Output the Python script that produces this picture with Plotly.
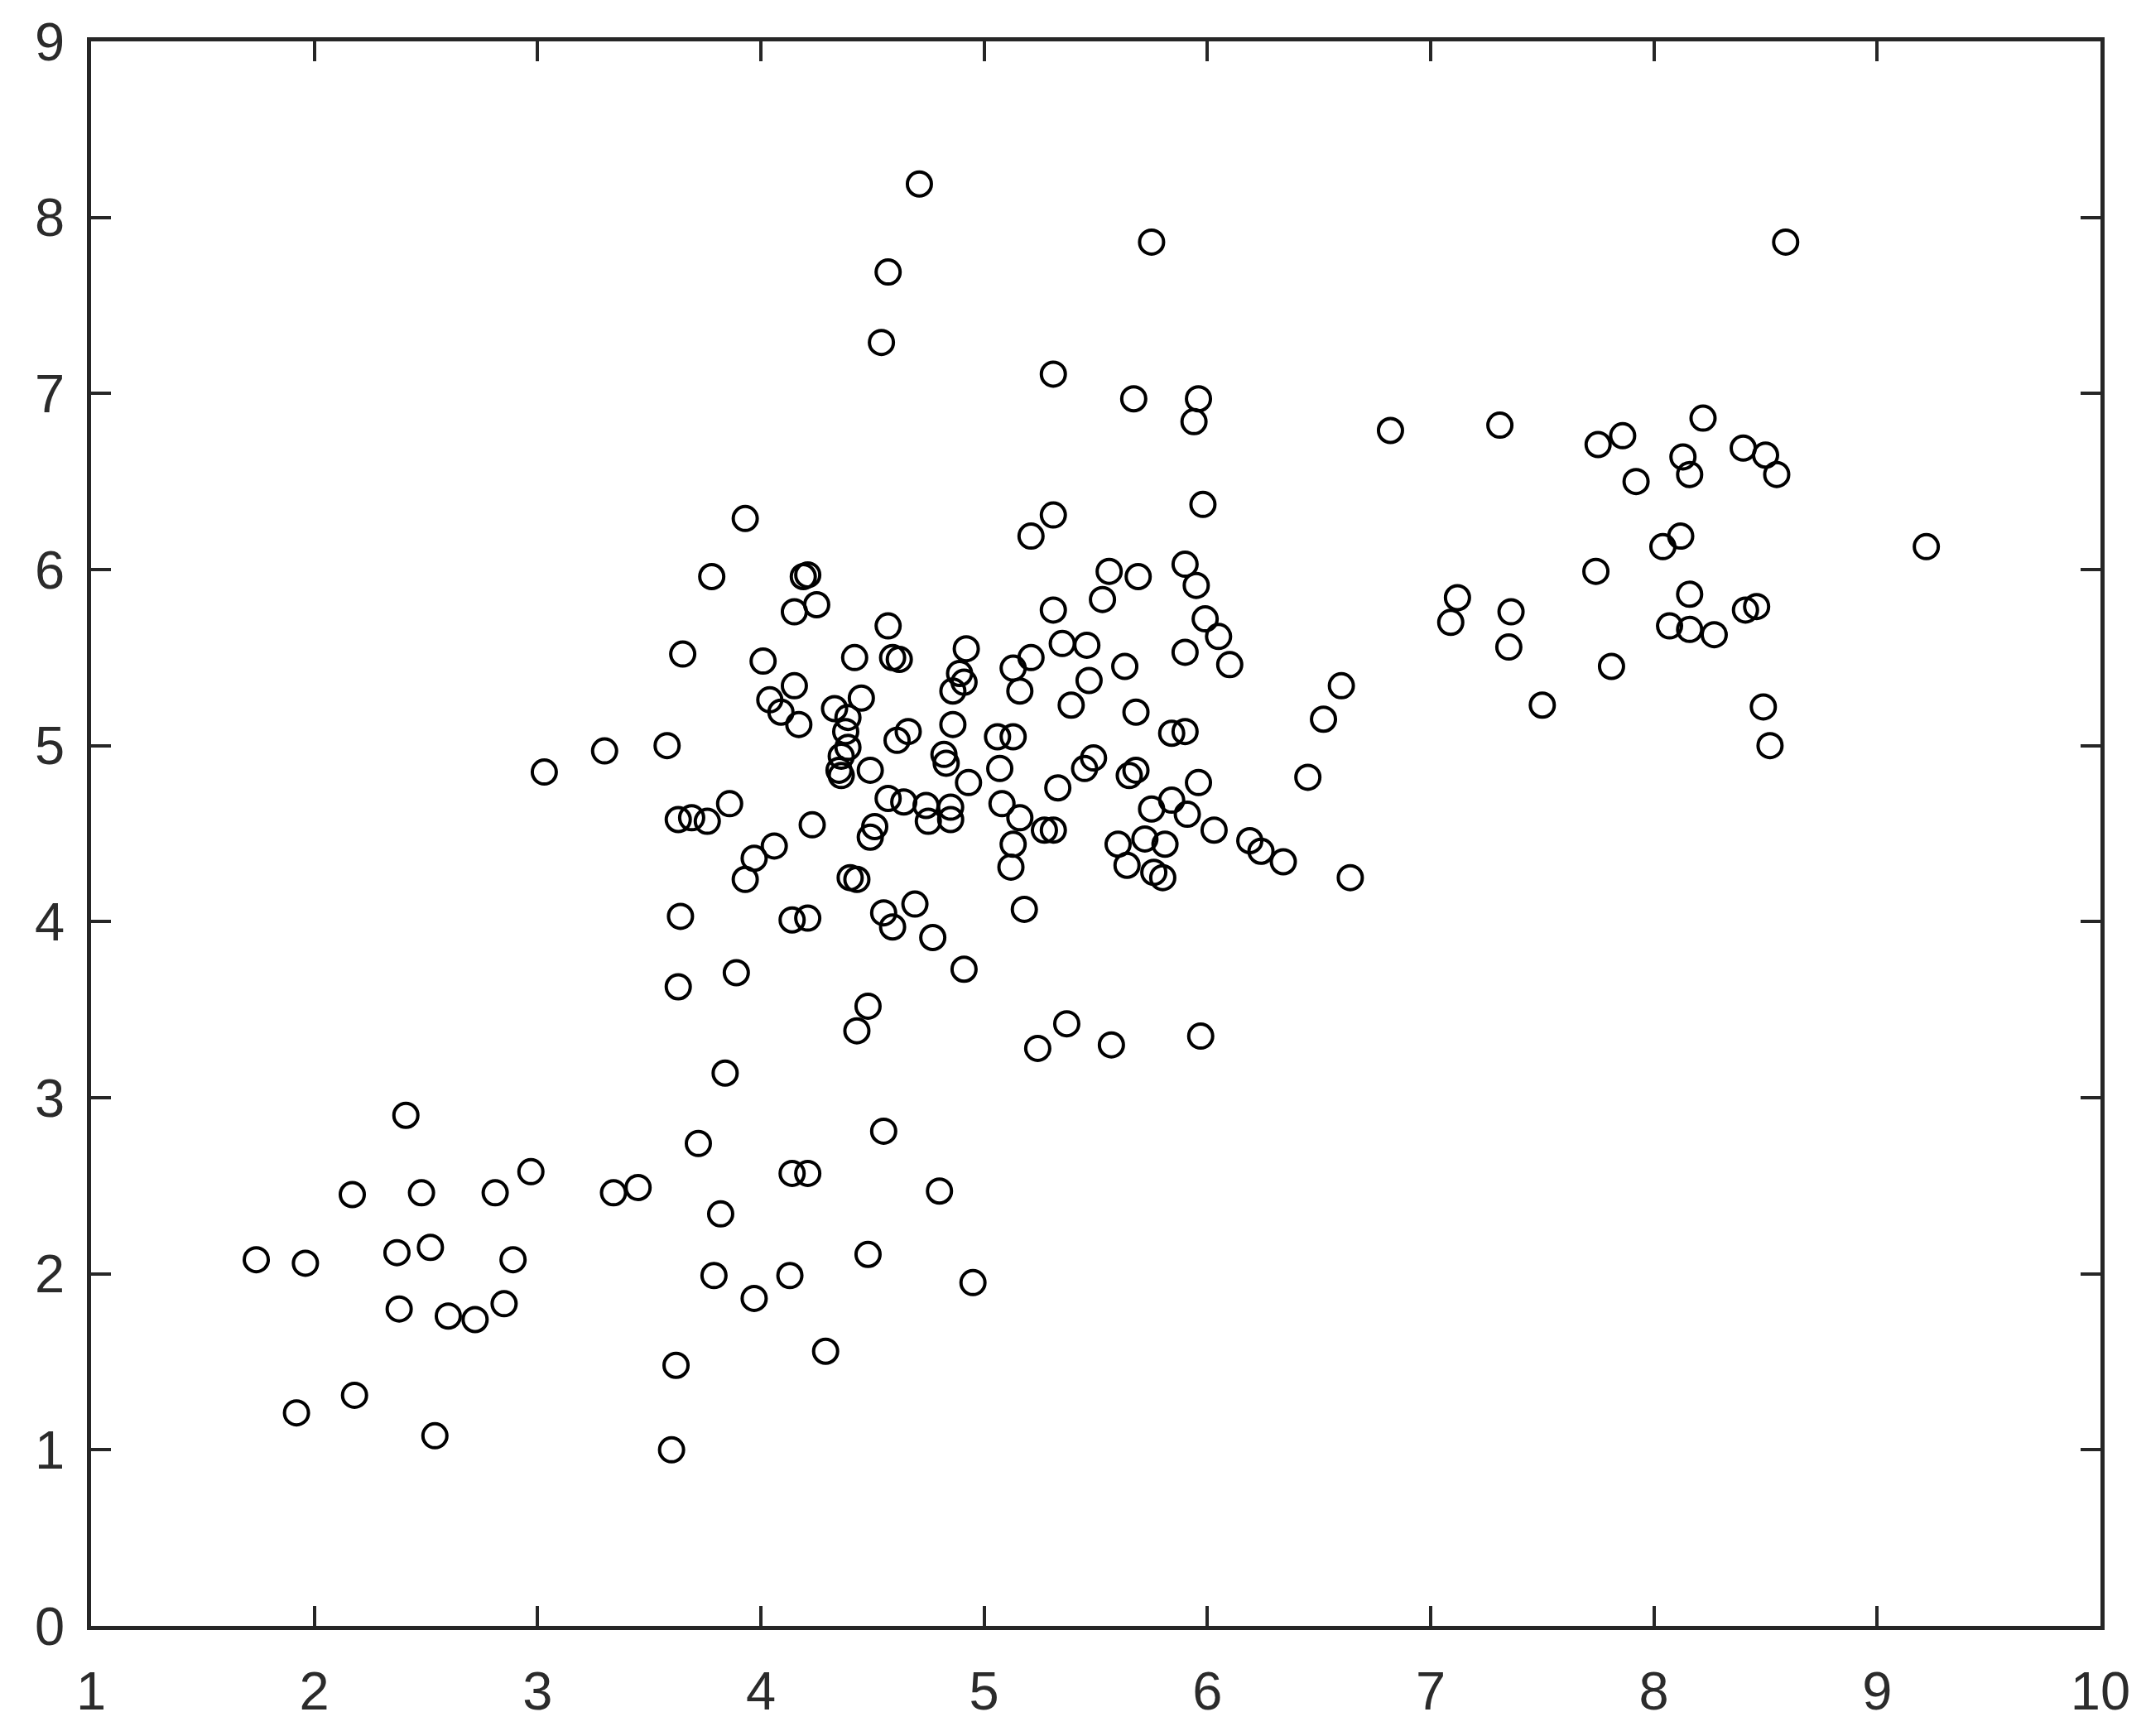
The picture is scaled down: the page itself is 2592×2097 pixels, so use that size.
import plotly.graph_objects as go

x_vals = [
    1.74, 1.96, 1.92, 2.18, 2.17, 2.41, 2.48, 2.37, 2.52, 2.38, 2.60, 2.72, 2.54, 2.81, 2.85,
    2.89, 2.97, 3.03, 3.30, 3.34, 3.45, 3.58, 3.60, 3.62, 3.63, 3.64, 3.63, 3.65, 3.69, 3.72,
    3.76, 3.78, 3.79, 3.82, 3.84, 3.86, 3.89, 3.93, 3.93, 3.97, 3.97, 4.01, 4.04, 4.06, 4.09,
    4.13, 4.14, 4.15, 4.15, 4.14, 4.17, 4.19, 4.21, 4.21, 4.21, 4.23, 4.25, 4.29, 4.33, 4.35,
    4.36, 4.36, 4.38, 4.39, 4.39, 4.40, 4.43, 4.42, 4.43, 4.45, 4.48, 4.48, 4.49, 4.49, 4.51,
    4.54, 4.55, 4.55, 4.57, 4.57, 4.57, 4.59, 4.59, 4.62, 4.61, 4.64, 4.66, 4.69, 4.71, 4.74,
    4.75, 4.77, 4.80, 4.82, 4.83, 4.85, 4.85, 4.86, 4.86, 4.89, 4.91, 4.91, 4.92, 4.93, 4.95,
    5.06, 5.07, 5.08, 5.13, 5.13, 5.12, 5.13, 5.16, 5.16, 5.18, 5.21, 5.21, 5.24, 5.27, 5.31,
    5.31, 5.31, 5.31, 5.33, 5.35, 5.37, 5.39, 5.45, 5.46, 5.47, 5.49, 5.53, 5.56, 5.57, 5.60,
    5.63, 5.64, 5.65, 5.68, 5.67, 5.68, 5.69, 5.72, 5.75, 5.75, 5.76, 5.80, 5.81, 5.84, 5.84,
    5.90, 5.90, 5.90, 5.91, 5.94, 5.95, 5.96, 5.96, 5.97, 5.98, 5.99, 6.03, 6.05, 6.10, 6.19,
    6.24, 6.34, 6.45, 6.52, 6.60, 6.64, 6.82, 7.09, 7.12, 7.31, 7.35, 7.36, 7.50, 7.74, 7.75,
    7.81, 7.86, 7.92, 8.04, 8.07, 8.12, 8.13, 8.16, 8.16, 8.16, 8.22, 8.27, 8.40, 8.41, 8.46,
    8.50, 8.49, 8.52, 8.55, 8.59, 9.22,
]

y_vals = [
    2.08, 2.06, 1.21, 1.31, 2.45, 2.90, 2.46, 2.12, 2.15, 1.80, 1.76, 1.74, 1.08, 2.46, 1.83,
    2.08, 2.58, 4.85, 4.97, 2.46, 2.49, 5.00, 1.00, 1.48, 4.58, 4.03, 3.63, 5.52, 4.59, 2.74,
    4.57, 5.96, 1.99, 2.34, 3.14, 4.67, 3.71, 6.29, 4.24, 4.36, 1.86, 5.48, 5.26, 4.43, 5.19,
    1.99, 2.57, 5.34, 5.76, 4.01, 5.12, 5.96, 5.97, 4.02, 2.57, 4.55, 5.80, 1.56, 5.21, 4.86,
    4.94, 4.83, 5.08, 4.99, 5.16, 4.25, 4.24, 5.50, 3.38, 5.27, 3.52, 2.11, 4.86, 4.48, 4.54,
    7.29, 2.81, 4.05, 4.70, 7.69, 5.68, 3.97, 5.50, 5.49, 5.03, 4.68, 5.08, 4.10, 8.19, 4.66,
    4.57, 3.91, 2.47, 4.95, 4.90, 4.65, 4.58, 5.31, 5.12, 5.41, 3.73, 5.36, 5.55, 4.79, 1.95,
    5.05, 4.87, 4.67, 5.05, 4.44, 4.31, 5.44, 5.31, 4.59, 4.07, 5.50, 6.19, 3.28, 4.52, 4.52,
    5.77, 6.31, 7.11, 4.76, 5.58, 3.42, 5.23, 4.87, 5.57, 5.37, 4.93, 5.83, 5.99, 3.30, 4.44,
    5.45, 4.32, 4.83, 4.86, 6.97, 5.19, 5.96, 4.47, 4.64, 7.86, 4.28, 4.25, 4.44, 5.07, 4.69,
    5.08, 6.03, 5.53, 4.61, 6.84, 5.91, 6.97, 4.79, 3.35, 6.37, 5.72, 4.52, 5.62, 5.46, 4.46,
    4.40, 4.34, 4.82, 5.15, 5.34, 4.25, 6.79, 5.70, 5.84, 6.82, 5.56, 5.76, 5.23, 5.99, 6.71,
    5.45, 6.76, 6.50, 6.13, 5.68, 6.19, 6.64, 6.54, 5.86, 5.66, 6.86, 5.63, 6.69, 5.77, 5.79,
    6.65, 5.22, 5.00, 6.54, 7.86, 6.13,
]

x_ticks = list(range(1, 11))
y_ticks = list(range(0, 10))

fig = go.Figure()
fig.add_trace(go.Scatter(
    x=x_vals, y=y_vals, mode="markers",
    marker=dict(symbol="circle-open", size=29, color="black", line=dict(width=4, color="black")),
    showlegend=False, cliponaxis=False,
))

axis_common = dict(
    showgrid=False, zeroline=False, showline=True, linecolor="#262626", linewidth=4.5,
    mirror="ticks", ticks="inside", ticklen=24, tickwidth=4, tickcolor="#262626",
    automargin=False,
    tickfont=dict(family="Liberation Sans, Arial, sans-serif", size=65, color="#2b2b2b"),
)

fig.update_xaxes(range=[1, 10], tickvals=x_ticks, ticktext=[str(v) for v in x_ticks],
                 ticklabelstandoff=18, **axis_common)
fig.update_yaxes(range=[0, 9], tickvals=y_ticks, ticktext=[str(v) for v in y_ticks],
                 ticklabelstandoff=14, **axis_common)

fig.update_layout(
    width=2592, height=2097,
    margin=dict(l=102, r=63, t=42, b=141),
    paper_bgcolor="white", plot_bgcolor="white",
)

fig.write_html("out.html")
